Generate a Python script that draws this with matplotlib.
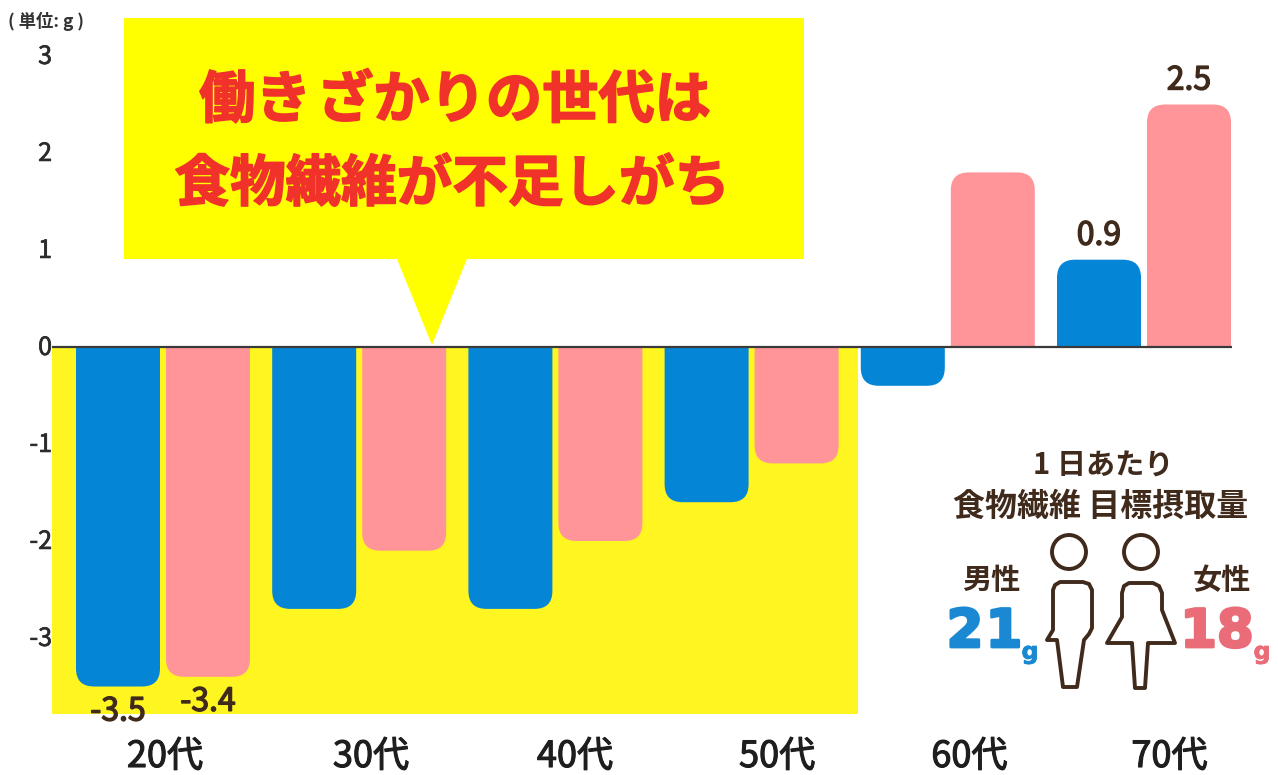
import matplotlib
matplotlib.use("Agg")
import matplotlib.pyplot as plt
import matplotlib.patheffects as pe
from matplotlib.patches import Circle, PathPatch, Polygon
from matplotlib.path import Path
from matplotlib.transforms import ScaledTranslation

plt.rcParams["font.family"] = ["Noto Sans CJK JP", "DejaVu Sans"]

# Shortfall or surplus against the daily dietary-fibre target, in grams
age_groups = ["20代", "30代", "40代", "50代", "60代", "70代"]
male_values = [-3.5, -2.7, -2.7, -1.6, -0.4, 0.9]
female_values = [-3.4, -2.1, -2.0, -1.2, 1.8, 2.5]
y_ticks = [3, 2, 1, 0, -1, -2, -3]
labelled_male = {0: "-3.5", 5: "0.9"}
labelled_female = {0: "-3.4", 5: "2.5"}
age_label_shift = [0.01, 0.06, 0.10, 0.13, 0.11, 0.13]

BLUE = "#0585D6"
PINK = "#FF9499"
BAND = "#FFF520"
CALLOUT = "#FFFF00"
RED = "#F1322A"
BROWN = "#3F2A1C"
W, H = 1278, 775
X0, DX = 163.0, 196.2       # pixel centre of the first group, pixels per group
Y0, DY = 347.0, 97.0        # pixel row of zero, pixels per gram

fig = plt.figure(figsize=(W / 100, H / 100), dpi=100, facecolor="white")
left, right, top, bottom = 52, 1232, 56, 714
ax = fig.add_axes([left / W, 1 - bottom / H, (right - left) / W, (bottom - top) / H])
ax.set_xlim((left - X0) / DX, (right - X0) / DX)
ax.set_ylim((Y0 - bottom) / DY, (Y0 - top) / DY)
for spine in ax.spines.values():
    spine.set_visible(False)

# Yellow band behind the under-target working-age groups
band_right = (858 - X0) / DX
ax.fill_between([ax.get_xlim()[0], band_right], ax.get_ylim()[0], 0, color=BAND, lw=0, zorder=1)


def rounded_bar(axes, centre, width, value, color):
    """Bar from zero to value, with the far corners rounded."""
    rx, ry = 18 / DX, 18 / DY
    ry = ry if value > 0 else -ry
    l, r = centre - width / 2, centre + width / 2
    if abs(value) < abs(ry):
        ry = value
    verts = [(l, 0), (l, value - ry), (l, value), (l + rx, value),
             (r - rx, value), (r, value), (r, value - ry), (r, 0), (l, 0)]
    codes = [Path.MOVETO, Path.LINETO, Path.CURVE3, Path.CURVE3,
             Path.LINETO, Path.CURVE3, Path.CURVE3, Path.LINETO, Path.CLOSEPOLY]
    axes.add_patch(PathPatch(Path(verts, codes), fc=color, ec="none", zorder=2))


bar_w, offset = 84 / DX, 45 / DX
for i in range(len(age_groups)):
    rounded_bar(ax, i - offset, bar_w, male_values[i], BLUE)
    rounded_bar(ax, i + offset, bar_w, female_values[i], PINK)


def value_label(x, value, text):
    shift = 24 if value > 0 else -25
    ax.annotate(text, (x, value), xytext=(0, shift * 0.72), textcoords="offset points",
                ha="center", va="center", fontsize=23, color=BROWN, zorder=5,
                annotation_clip=False,
                path_effects=[pe.withStroke(linewidth=1.0, foreground=BROWN)])


for i, text in labelled_male.items():
    value_label(i - offset, male_values[i], text)
for i, text in labelled_female.items():
    value_label(i + offset, female_values[i], text)

ax.axhline(0, color="#3A3A3A", lw=1.6, zorder=3)

ax.set_yticks(y_ticks, [str(v) for v in y_ticks])
ax.tick_params(axis="y", length=0, pad=0, labelsize=18, labelcolor="#2B2B2B")
nudge = ScaledTranslation(0, 1.5 / 72, fig.dpi_scale_trans)
for label in ax.get_yticklabels():
    label.set_transform(label.get_transform() + nudge)
    label.set_path_effects([pe.withStroke(linewidth=0.5, foreground="#2B2B2B")])
ax.set_xticks([i + s for i, s in enumerate(age_label_shift)], age_groups)
ax.tick_params(axis="x", length=0, pad=18, labelsize=26, labelcolor="#1E1E1E")
for label in ax.get_xticklabels():
    label.set_path_effects([pe.withStroke(linewidth=0.8, foreground="#1E1E1E")])

# Overlay in pixel coordinates for the callout and the target-intake panel
ov = fig.add_axes([0, 0, 1, 1], facecolor="none")
ov.set_xlim(0, W)
ov.set_ylim(H, 0)
ov.axis("off")

ov.add_patch(Polygon([(124, 18), (804, 18), (804, 259), (467, 259), (432, 345),
                      (397, 259), (124, 259)], fc=CALLOUT, ec="none"))
heavy = [pe.withStroke(linewidth=1.2, foreground=RED)]
ov.text(455, 101, "働き\u200aざかりの世代は", ha="center", va="center", fontsize=40.5,
        fontweight="bold", color=RED, path_effects=heavy)
ov.text(452, 185, "食物繊維が不足しがち", ha="center", va="center", fontsize=40,
        fontweight="bold", color=RED, path_effects=heavy)

ov.text(8, 21, "( 単位: g )", ha="left", va="center", fontsize=12.5, fontweight="bold",
        color="#333333")

ov.text(1103, 466, "1 日あたり", ha="center", va="center", fontsize=21, fontweight="bold", color=BROWN)
ov.text(1101, 507, "食物繊維 目標摂取量", ha="center", va="center", fontsize=23,
        fontweight="bold", color=BROWN)
ov.text(991, 580, "男性", ha="center", va="center", fontsize=21, fontweight="bold", color=BROWN)
ov.text(1222, 580, "女性", ha="center", va="center", fontsize=21, fontweight="bold", color=BROWN)

# Large target figures in a wide, heavy face
thick_blue = [pe.withStroke(linewidth=2, foreground="#1A88D2")]
thick_pink = [pe.withStroke(linewidth=2, foreground="#E96C78")]
thin_blue = [pe.withStroke(linewidth=0.6, foreground="#1A88D2")]
thin_pink = [pe.withStroke(linewidth=0.6, foreground="#E96C78")]
display = ["DejaVu Sans"]
ov.text(965, 632, "2", ha="center", va="center", fontsize=38, fontweight="bold", family=display,
        color="#1A88D2", path_effects=thick_blue)
ov.text(1004, 632, "1", ha="center", va="center", fontsize=38, fontweight="bold", family=display,
        color="#1A88D2", path_effects=thick_blue)
ov.text(1030, 652, "g", ha="center", va="center", fontsize=17, fontweight="bold", family=display,
        color="#1A88D2", path_effects=thin_blue)
ov.text(1217, 632, "18", ha="center", va="center", fontsize=38, fontweight="bold", family=display,
        color="#E96C78", path_effects=thick_pink)
ov.text(1262, 652, "g", ha="center", va="center", fontsize=17, fontweight="bold", family=display,
        color="#E96C78", path_effects=thin_pink)

# Pictograms of a man and a woman
outline = dict(fc="white", ec=BROWN, lw=2.8, joinstyle="round")
ov.add_patch(Circle((1069, 552), 17, **outline))
ov.add_patch(Circle((1141, 552), 17, **outline))
man_outline = [(1060, 582), (1083, 582), (1089, 584), (1092, 590), (1092, 628), (1089, 634),
               (1084, 640), (1077, 687), (1063, 687), (1057, 640), (1047, 640), (1053, 630),
               (1053, 590), (1055, 585)]
woman_outline = [(1129, 583), (1153, 583), (1159, 586), (1162, 593), (1162, 610), (1175, 643),
                 (1148, 643), (1145, 688), (1135, 688), (1132, 643), (1107, 643), (1122, 617),
                 (1122, 593), (1124, 586)]
ov.add_patch(Polygon(man_outline, closed=True, **outline))
ov.add_patch(Polygon(woman_outline, closed=True, **outline))

fig.savefig("out.png", dpi=100, facecolor="white")
